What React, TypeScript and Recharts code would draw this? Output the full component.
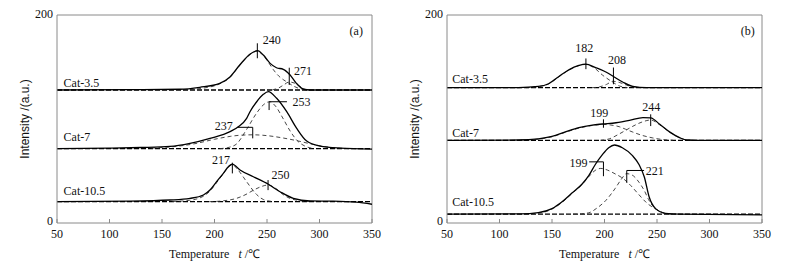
import React from 'react';
import { LineChart, Line, XAxis, YAxis, ReferenceLine, ReferenceDot } from 'recharts';

type Pt = [number, number];
type Note = { text: string; t: number; v: number; pos: 'left' | 'right' | 'center' };

const TEMP_TICKS = [50, 100, 150, 200, 250, 300, 350];
const INTENSITY_TICKS = [0, 200];
const SAMPLES = ['Cat-3.5', 'Cat-7', 'Cat-10.5'];

// ---- panel (a) ----
const A35_BASE: Pt[] = [[50, 127.9], [350, 127.9]];
const A35_TOTAL: Pt[] = [[50, 127.9], [120, 128.2], [167, 128.6], [186, 130.5], [205, 134.3], [215, 140.7], [224, 151.9], [234, 162.5], [241, 165.7], [246.5, 161.5], [253, 153.5], [259, 149.3], [265.5, 147.8], [272, 142.3], [278, 134.3], [285, 128.6], [291, 127.9], [350, 127.9]];
const A35_P240: Pt[] = [[170, 128], [190, 129.8], [205, 133.8], [215, 140.3], [224, 151.5], [234, 162], [240.5, 165.2], [246.5, 161], [251, 155], [256, 147.5], [261, 141.5], [266, 137.5], [270, 135], [275, 131.8], [280, 129.6], [290, 128]];
const A35_P271: Pt[] = [[255, 128], [261, 129.8], [266, 132.8], [271, 135.6], [276, 134.6], [281, 131.5], [287, 128.2], [292, 127.9]];

const A7_BASE: Pt[] = [[50, 71.5], [350, 71.5]];
const A7_TOTAL: Pt[] = [[50, 71.5], [100, 72], [130, 72.6], [157.6, 73.6], [176.7, 76.6], [195.7, 81.4], [214.8, 87.8], [222.7, 92.6], [230.6, 100.6], [233.8, 107], [240.2, 116.6], [246.5, 123.7], [251.3, 126.3], [259.2, 119.9], [268.8, 107], [278.3, 91], [287.8, 78.8], [300.5, 74], [319.5, 72], [350, 71]];
const A7_P237: Pt[] = [[140, 72], [160, 73.3], [180, 76], [200, 80.5], [215, 83.3], [226, 84.5], [237, 84.8], [250, 84], [265, 81.8], [280, 78.8], [295, 75.3], [310, 72.8], [325, 71.7]];
const A7_P253: Pt[] = [[205, 71.5], [214, 72.8], [221, 76], [230.6, 90], [240, 105.5], [247, 114], [252.5, 116.6], [258, 112.5], [265, 101], [272, 88.5], [279, 79], [286, 74], [295, 71.6]];

const A105_BASE: Pt[] = [[50, 20.5], [350, 20.5]];
const A105_TOTAL: Pt[] = [[50, 20.5], [120, 21], [157.6, 22.1], [176.7, 23.7], [189.4, 26.9], [195.7, 31.7], [202, 39.7], [208.4, 47.8], [213.2, 54.1], [217, 56.7], [224.3, 51], [237, 44.5], [251.3, 37.2], [262.4, 30.1], [275.1, 23.7], [291, 21.2], [313, 21], [335, 20], [350, 18]];
const A105_P217: Pt[] = [[160, 20.7], [176, 21.8], [189, 25.5], [196, 31], [202, 38.8], [208, 46.8], [213, 53.4], [217, 56], [222, 51.5], [230.6, 39.7], [240, 27.5], [246.5, 22.6], [255, 20.7]];
const A105_P250: Pt[] = [[195, 20.5], [208, 21.3], [221, 23.7], [230, 27.5], [237, 31.5], [244, 34.8], [251, 36.5], [258, 33.5], [265.5, 27.2], [272, 23.6], [279, 21.8], [290, 20.6]];

// ---- panel (b) ----
const B35_BASE: Pt[] = [[50, 130.1], [350, 130.1]];
const B35_TOTAL: Pt[] = [[50, 130.1], [118, 130.2], [137, 131.3], [146.7, 133.9], [156.3, 140.7], [166, 147.3], [175.6, 151.5], [182, 152.8], [191.6, 149.4], [201.3, 145.2], [209.3, 140.4], [217.3, 135.6], [227, 131.3], [240, 130.1], [350, 130.1]];
const B35_P182: Pt[] = [[125, 130.1], [137, 131.1], [146.7, 133.6], [156.3, 140.4], [166, 147], [175.6, 151.3], [182, 152.5], [190, 149.3], [198, 142.3], [207.7, 135.5], [214, 131.8], [222, 130.2]];
const B35_P208: Pt[] = [[188, 130.1], [195, 130.8], [202, 133.3], [208, 136.3], [214, 135.2], [221, 132.6], [228, 130.7], [236, 130.1]];

const B7_BASE: Pt[] = [[50, 79.5], [350, 79.5]];
const B7_TOTAL: Pt[] = [[50, 79.5], [118, 79.8], [137, 80.9], [150, 83.2], [162.7, 87.6], [175.6, 91.8], [188.4, 94.2], [198, 95.2], [211, 96.4], [223.7, 98.6], [236.6, 101.4], [244, 101], [252.6, 95], [262.3, 87.4], [272, 81.8], [278.3, 79.8], [290, 79.5], [350, 79.5]];
const B7_P199: Pt[] = [[120, 79.7], [137, 80.7], [150, 82.9], [162.7, 87.2], [175.6, 91.2], [188.4, 93.8], [199, 94.8], [206, 94.2], [214, 92.6], [220, 90.2], [227, 87.4], [236, 84.2], [246, 81.8], [255, 80.3], [265, 79.6]];
const B7_P244: Pt[] = [[196, 79.5], [204.5, 80.9], [214, 85.6], [220, 89], [227, 93], [236, 97.2], [244, 99], [252.6, 94.4], [262.3, 87.2], [272, 81.7], [279, 79.7], [286, 79.5]];

const B105_BASE: Pt[] = [[50, 8.5], [350, 8.5]];
const B105_TOTAL: Pt[] = [[50, 8.5], [120, 8.8], [137, 10], [150, 13.8], [159.6, 20.4], [169, 28.8], [178.7, 37.5], [185, 45.5], [191.4, 56.5], [197.8, 65.5], [204, 72.4], [209.5, 75], [217, 72.4], [226.4, 65], [233, 56], [238, 44], [242.4, 25.5], [248.7, 13.8], [258, 9.3], [271, 8.5], [350, 7.8]];
const B105_P199: Pt[] = [[130, 8.7], [145, 11.2], [159.6, 19.8], [169, 28.3], [178.7, 37], [185, 44.5], [191, 50.5], [196.5, 52.5], [203, 50.8], [210, 47.3], [217, 43.3], [225, 36], [233, 27], [240, 19.5], [246, 15], [252, 11.6], [258, 9.4], [268, 8.5]];
const B105_P221: Pt[] = [[170, 8.5], [178, 8.9], [185, 9.8], [193, 14.5], [201, 21.4], [210, 33], [216, 42], [221, 47.5], [226, 46.3], [233, 39], [238, 31], [242, 22.5], [247, 15.2], [252, 11.4], [260, 8.8], [268, 8.5]];

// peak markers: [t1, v1, t2, v2]
const A_MARKS = [[240.8, 158.4, 240.8, 172.8], [271.2, 132.7, 271.2, 149.3], [252, 116.6, 269, 116.6], [252, 116.6, 252, 108.6], [221.7, 92, 236.4, 92], [236.4, 92, 236.4, 81.4], [217, 47.7, 217, 58], [251, 31.6, 251, 41.3]];
const B_MARKS = [[182.3, 147.9, 182.3, 158.2], [208.5, 133.4, 208.5, 149.5], [199, 91.6, 199, 99.7], [244, 93.2, 244, 104.5], [185.4, 58.8, 199, 58.8], [199, 58.8, 199, 45], [221.2, 50.5, 237.7, 50.5], [221.2, 50.5, 221.2, 38.6]];

const A_NOTES: Note[] = [
  { text: '240', t: 246, v: 176, pos: 'right' },
  { text: '271', t: 275.7, v: 146.4, pos: 'right' },
  { text: '253', t: 274.4, v: 117, pos: 'right' },
  { text: '237', t: 217.3, v: 94, pos: 'left' },
  { text: '217', t: 214.7, v: 61.3, pos: 'left' },
  { text: '250', t: 254.3, v: 46, pos: 'right' },
  { text: '(a)', t: 335, v: 184.8, pos: 'center' },
  { text: SAMPLES[0], t: 56.3, v: 134.9, pos: 'right' },
  { text: SAMPLES[1], t: 56.3, v: 83.2, pos: 'right' },
  { text: SAMPLES[2], t: 56.3, v: 30.6, pos: 'right' },
];
const B_NOTES: Note[] = [
  { text: '182', t: 180.7, v: 168.2, pos: 'center' },
  { text: '208', t: 212, v: 156.6, pos: 'center' },
  { text: '199', t: 195, v: 106.1, pos: 'center' },
  { text: '244', t: 244.6, v: 111.9, pos: 'center' },
  { text: '199', t: 183.9, v: 57.9, pos: 'left' },
  { text: '221', t: 239.2, v: 49.8, pos: 'right' },
  { text: '(b)', t: 336.4, v: 184.9, pos: 'center' },
  { text: SAMPLES[0], t: 55, v: 138.3, pos: 'right' },
  { text: SAMPLES[1], t: 55, v: 86.8, pos: 'right' },
  { text: SAMPLES[2], t: 55, v: 20.9, pos: 'right' },
];

const SERIF = 'Liberation Serif, Times New Roman, serif';
const AXIS = '#8a8a8a';
const INK = '#111';

const toRows = (pts: Pt[]) => pts.map(([t, v]) => ({ t, v }));

const XTitle = (props: any) => {
  const vb = props.viewBox || { x: 49, y: 215, width: 315 };
  return (
    <text x={vb.x + vb.width / 2} y={vb.y + 35} textAnchor="middle" fontSize={12} fill={INK}
      style={{ fontFamily: SERIF }}>
      Temperature
      <tspan dx={9} fontStyle="italic">t</tspan>
      <tspan> /℃</tspan>
    </text>
  );
};

const YTitle = (props: any) => {
  const vb = props.viewBox || { x: 0, y: 7, height: 208 };
  const cx = 17;
  const cy = vb.y + vb.height / 2;
  return (
    <text x={cx} y={cy} transform={`rotate(-90, ${cx}, ${cy})`} textAnchor="middle" dominantBaseline="central"
      fontSize={12} fill={INK} style={{ fontFamily: 'Liberation Sans, Arial, sans-serif' }}>
      Intensity /(a.u.)
    </text>
  );
};

type PanelProps = {
  totals: Pt[][];
  bases: Pt[][];
  parts: Pt[][];
  marks: number[][];
  notes: Note[];
};

const Panel = ({ totals, bases, parts, marks, notes }: PanelProps) => (
  <LineChart width={390} height={258} margin={{ top: 7, right: 26, left: 0, bottom: 0 }}
    style={{ fontFamily: SERIF }}>
    <XAxis dataKey="t" type="number" domain={[50, 350]} ticks={TEMP_TICKS} allowDataOverflow height={43}
      stroke={AXIS} tickSize={-4} tickMargin={10} tick={{ fill: INK, fontSize: 12, fontFamily: SERIF }} label={XTitle} />
    <YAxis type="number" domain={[0, 200]} ticks={INTENSITY_TICKS} width={49} stroke={AXIS} tickLine={false}
      tickSize={0} tickMargin={4} tick={{ fill: INK, fontSize: 12, fontFamily: SERIF, dy: -2 }} label={YTitle} />
    <ReferenceLine y={200} stroke={AXIS} />
    <ReferenceLine x={350} stroke={AXIS} />
    {bases.map((b, i) => (
      <Line key={`b${i}`} data={toRows(b)} dataKey="v" type="linear" stroke="#000" strokeWidth={1.3}
        strokeDasharray="5 2" dot={false} activeDot={false} isAnimationActive={false} />
    ))}
    {parts.map((p, i) => (
      <Line key={`p${i}`} data={toRows(p)} dataKey="v" type="monotone" stroke="#333" strokeWidth={0.9}
        strokeDasharray="4 3" dot={false} activeDot={false} isAnimationActive={false} />
    ))}
    {totals.map((s, i) => (
      <Line key={`s${i}`} data={toRows(s)} dataKey="v" type="monotone" stroke="#000" strokeWidth={1.3}
        dot={false} activeDot={false} isAnimationActive={false} />
    ))}
    {marks.map(([t1, v1, t2, v2], i) => (
      <ReferenceLine key={`m${i}`} segment={[{ x: t1, y: v1 }, { x: t2, y: v2 }]} stroke="#000" strokeWidth={1} />
    ))}
    {notes.map((n, i) => (
      <ReferenceDot key={`n${i}`} x={n.t} y={n.v} r={0} fill="none" stroke="none"
        label={{ value: n.text, position: n.pos, offset: 0, fill: INK, fontSize: 12, fontFamily: SERIF }} />
    ))}
  </LineChart>
);

export default function App() {
  return (
    <div style={{ display: 'flex', width: 780, height: 258, fontFamily: SERIF }}>
      <Panel
        totals={[A35_TOTAL, A7_TOTAL, A105_TOTAL]}
        bases={[A35_BASE, A7_BASE, A105_BASE]}
        parts={[A35_P240, A35_P271, A7_P237, A7_P253, A105_P217, A105_P250]}
        marks={A_MARKS}
        notes={A_NOTES}
      />
      <Panel
        totals={[B35_TOTAL, B7_TOTAL, B105_TOTAL]}
        bases={[B35_BASE, B7_BASE, B105_BASE]}
        parts={[B35_P182, B35_P208, B7_P199, B7_P244, B105_P199, B105_P221]}
        marks={B_MARKS}
        notes={B_NOTES}
      />
    </div>
  );
}
